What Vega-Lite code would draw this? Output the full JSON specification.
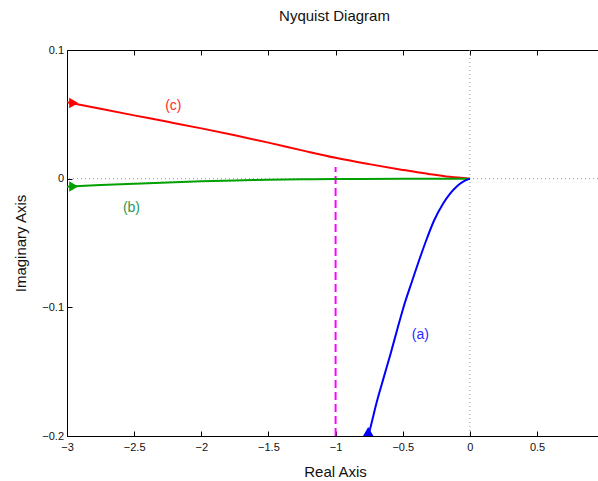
{
  "$schema": "https://vega.github.io/schema/vega-lite/v6.json",
  "autosize": "none",
  "width": 531,
  "height": 386,
  "padding": {"left": 67, "top": 50, "right": 0, "bottom": 45},
  "title": {"text": "Nyquist Diagram", "fontSize": 15, "fontWeight": "normal", "font": "Liberation Sans", "color": "#111", "offset": 20, "dx": 2},
  "config": {
    "view": {"stroke": null},
    "font": "Liberation Sans",
    "axis": {"grid": false, "labelFlush": false, "domainColor": "#000", "domainWidth": 1, "tickColor": "#000", "tickSize": -5, "labelFontSize": 11, "labelColor": "#111", "titleFontSize": 15, "titleFontWeight": "normal", "titleColor": "#111", "labelFont": "Liberation Sans", "titleFont": "Liberation Sans"}
  },
  "datasets": {
    "curves": [
      {"s": "c", "o": 0, "x": -3.0, "y": 0.0595},
      {"s": "c", "o": 1, "x": -2.75, "y": 0.0543},
      {"s": "c", "o": 2, "x": -2.5, "y": 0.0492},
      {"s": "c", "o": 3, "x": -2.25, "y": 0.0442},
      {"s": "c", "o": 4, "x": -2.0, "y": 0.0391},
      {"s": "c", "o": 5, "x": -1.75, "y": 0.0337},
      {"s": "c", "o": 6, "x": -1.5, "y": 0.028},
      {"s": "c", "o": 7, "x": -1.25, "y": 0.022},
      {"s": "c", "o": 8, "x": -1.0, "y": 0.0162},
      {"s": "c", "o": 9, "x": -0.75, "y": 0.0113},
      {"s": "c", "o": 10, "x": -0.5, "y": 0.0068},
      {"s": "c", "o": 11, "x": -0.3, "y": 0.0035},
      {"s": "c", "o": 12, "x": -0.15, "y": 0.0014},
      {"s": "c", "o": 13, "x": 0.0, "y": 0.0},
      {"s": "b", "o": 0, "x": -3.0, "y": -0.0062},
      {"s": "b", "o": 1, "x": -2.75, "y": -0.005},
      {"s": "b", "o": 2, "x": -2.5, "y": -0.0039},
      {"s": "b", "o": 3, "x": -2.25, "y": -0.0029},
      {"s": "b", "o": 4, "x": -2.0, "y": -0.0021},
      {"s": "b", "o": 5, "x": -1.75, "y": -0.0014},
      {"s": "b", "o": 6, "x": -1.5, "y": -0.0009},
      {"s": "b", "o": 7, "x": -1.25, "y": -0.0005},
      {"s": "b", "o": 8, "x": -1.0, "y": -0.0003},
      {"s": "b", "o": 9, "x": -0.5, "y": -0.0001},
      {"s": "b", "o": 10, "x": 0.0, "y": 0.0},
      {"s": "a", "o": 0, "x": -0.757, "y": -0.2},
      {"s": "a", "o": 1, "x": -0.742, "y": -0.194},
      {"s": "a", "o": 2, "x": -0.692, "y": -0.173},
      {"s": "a", "o": 3, "x": -0.643, "y": -0.155},
      {"s": "a", "o": 4, "x": -0.593, "y": -0.137},
      {"s": "a", "o": 5, "x": -0.543, "y": -0.118},
      {"s": "a", "o": 6, "x": -0.493, "y": -0.0995},
      {"s": "a", "o": 7, "x": -0.43, "y": -0.0795},
      {"s": "a", "o": 8, "x": -0.369, "y": -0.0607},
      {"s": "a", "o": 9, "x": -0.32, "y": -0.0465},
      {"s": "a", "o": 10, "x": -0.27, "y": -0.0333},
      {"s": "a", "o": 11, "x": -0.2, "y": -0.0195},
      {"s": "a", "o": 12, "x": -0.146, "y": -0.0114},
      {"s": "a", "o": 13, "x": -0.1, "y": -0.0062},
      {"s": "a", "o": 14, "x": -0.05, "y": -0.0023},
      {"s": "a", "o": 15, "x": 0.0, "y": 0.0}
    ],
    "arrows": [
      {"s": "c", "x": -2.95, "y": 0.0588, "shape": "triangle-right"},
      {"s": "b", "x": -2.95, "y": -0.0061, "shape": "triangle-right"},
      {"s": "a", "x": -0.757, "y": -0.1965, "shape": "triangle-up"}
    ],
    "labels": [
      {"s": "c", "x": -2.208, "y": 0.0565, "text": "(c)"},
      {"s": "b", "x": -2.52, "y": -0.0227, "text": "(b)"},
      {"s": "a", "x": -0.369, "y": -0.1215, "text": "(a)"}
    ],
    "vgrid": [{"x": 0}],
    "hgrid": [{"y": 0}],
    "crit": [{"x": -1, "y": -0.2, "y2": 0.009}]
  },
  "resolve": {"axis": {"x": "independent", "y": "independent"}, "scale": {"color": "independent"}},
  "layer": [
    {
      "data": {"name": "vgrid"},
      "mark": {"type": "rule", "color": "#999", "strokeDash": [1, 3], "strokeWidth": 1},
      "encoding": {
        "x": {"field": "x", "type": "quantitative", "scale": {"domain": [-3, 0.954], "nice": false, "zero": false},
          "axis": {"orient": "bottom", "values": [-3, -2.5, -2, -1.5, -1, -0.5, 0, 0.5], "format": "~g", "labelPadding": 10, "title": "Real Axis", "titleX": 268, "titleY": 40, "titleBaseline": "alphabetic", "titleAnchor": null}}
      }
    },
    {
      "data": {"name": "hgrid"},
      "mark": {"type": "rule", "color": "#999", "strokeDash": [1, 3], "strokeWidth": 1},
      "encoding": {
        "y": {"field": "y", "type": "quantitative", "scale": {"domain": [-0.2, 0.1], "nice": false, "zero": false},
          "axis": {"orient": "left", "values": [-0.2, -0.1, 0, 0.1], "format": "~g", "labelPadding": 8.5, "title": "Imaginary Axis", "titleX": -42, "titleY": 193, "titleAngle": -90, "titleBaseline": "alphabetic", "titleAlign": "center", "titleAnchor": null}}
      }
    },
    {
      "data": {"name": "crit"},
      "mark": {"type": "rule", "color": "#ff00ff", "strokeDash": [8, 4], "strokeWidth": 2},
      "encoding": {
        "x": {"field": "x", "type": "quantitative", "axis": {"orient": "top", "values": [-3, -2.5, -2, -1.5, -1, -0.5, 0, 0.5], "labels": false, "title": null}},
        "y": {"field": "y", "type": "quantitative", "axis": null},
        "y2": {"field": "y2"}
      }
    },
    {
      "data": {"name": "curves"},
      "mark": {"type": "line", "strokeWidth": 2, "clip": true, "interpolate": "monotone"},
      "encoding": {
        "x": {"field": "x", "type": "quantitative", "axis": null},
        "y": {"field": "y", "type": "quantitative", "axis": null},
        "order": {"field": "o", "type": "quantitative"},
        "detail": {"field": "s"},
        "color": {"field": "s", "type": "nominal", "scale": {"domain": ["a", "b", "c"], "range": ["#0000ff", "#00a000", "#ff0000"]}, "legend": null}
      }
    },
    {
      "data": {"name": "arrows"},
      "mark": {"type": "point", "filled": true, "size": 110, "opacity": 1, "clip": true},
      "encoding": {
        "x": {"field": "x", "type": "quantitative", "axis": null},
        "y": {"field": "y", "type": "quantitative", "axis": null},
        "shape": {"field": "shape", "type": "nominal", "scale": null, "legend": null},
        "color": {"field": "s", "type": "nominal", "scale": {"domain": ["a", "b", "c"], "range": ["#0000ff", "#00a000", "#ff0000"]}, "legend": null}
      }
    },
    {
      "data": {"name": "labels"},
      "mark": {"type": "text", "fontSize": 14, "font": "Liberation Sans", "align": "center", "baseline": "middle"},
      "encoding": {
        "x": {"field": "x", "type": "quantitative", "axis": null},
        "y": {"field": "y", "type": "quantitative", "axis": null},
        "text": {"field": "text"},
        "color": {"field": "s", "type": "nominal", "scale": {"domain": ["a", "b", "c"], "range": ["#2a2aff", "#1f9a55", "#ff2a2a"]}, "legend": null}
      }
    }
  ]
}
